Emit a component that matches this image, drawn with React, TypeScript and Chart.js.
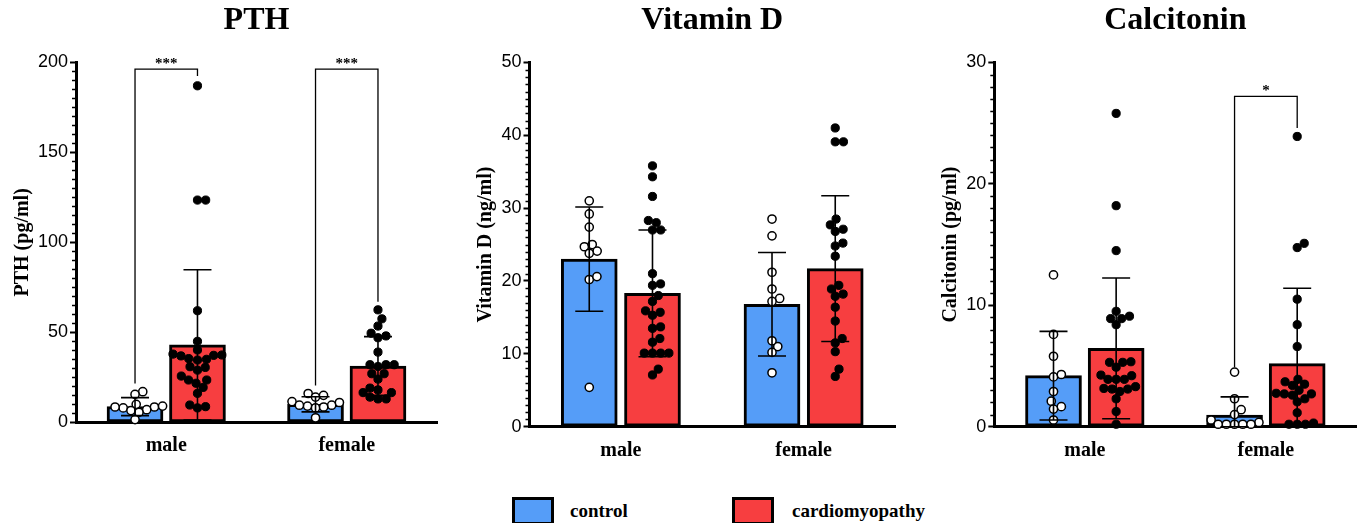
import React, { useEffect, useRef } from 'react';
import { Chart, registerables } from 'chart.js';

Chart.register(...registerables);

// ---------- data ----------
const groups = ['male', 'female'];
const seriesNames = ['control', 'cardiomyopathy'];
const seriesColors = ['#559DF8', '#F73E40'];

// PTH (pg/ml)
const pthTicks = [0, 50, 100, 150, 200];
const pthControlMean = [8.7, 10.0];
const pthControlSD = [5.0, 4.2];
const pthCardioMean = [43.0, 31.3];
const pthCardioSD = [41.8, 16.3];
const pthControlMale = [17, 15.5, 10, 8.5, 8, 8.5, 7, 5.5, 6.5, 9, 1.5];
const pthControlFemale = [16, 14, 15, 11.5, 9, 9.5, 8, 8.5, 9.5, 2.5, 11];
const pthCardioMale = [187, 123.5, 123.5, 62, 45, 40.2, 37.9, 37.4, 37.2, 36.9, 35.4, 35, 34.6, 30.9, 30.5, 29, 25.7, 23.5, 23.5, 21.7, 19.4, 16.1, 9.6, 8.7, 8];
const pthCardioFemale = [62.5, 57.5, 53.5, 48, 49.5, 47, 39, 32, 32, 31, 32, 27, 27, 24, 19, 18, 16.5, 16.5, 14, 13, 13];
const pthBrackets = [
  { group: 0, top: 196.3, leftEnd: 21.5, rightEnd: 192.4, label: '***' },
  { group: 1, top: 196.3, leftEnd: 20.5, rightEnd: 67, label: '***' },
];

// Vitamin D (ng/ml)
const vitDTicks = [0, 10, 20, 30, 40, 50];
const vitDControlMean = [23.0, 16.8];
const vitDControlSD = [7.15, 7.1];
const vitDCardioMean = [18.3, 21.7];
const vitDCardioSD = [8.7, 10.0];
const vitDControlMale = [31.0, 29.2, 27.4, 24.7, 25.0, 24.1, 23.8, 20.2, 20.6, 5.4];
const vitDControlFemale = [28.5, 26.2, 21.2, 18.9, 17.6, 17.2, 11.0, 11.8, 10.2, 7.4];
const vitDCardioMale = [35.8, 34.3, 31.6, 28.3, 28.0, 27.0, 27.0, 21.0, 19.4, 19.6, 18.0, 17.2, 15.3, 15.7, 15.9, 13.7, 13.5, 11.6, 12.1, 10.1, 10.1, 10.1, 10.1, 7.1, 7.9];
const vitDCardioFemale = [41.0, 39.1, 39.1, 28.5, 27.7, 27.1, 26.8, 25.2, 24.8, 23.4, 19.4, 18.9, 18.2, 17.9, 16.4, 14.5, 12.1, 11.5, 10.3, 7.9, 6.9];

// Calcitonin (pg/ml)
const calTicks = [0, 10, 20, 30];
const calControlMean = [4.2, 0.96];
const calControlSD = [3.65, 1.5];
const calCardioMean = [6.45, 5.2];
const calCardioSD = [5.8, 6.2];
const calControlMale = [12.5, 7.6, 5.8, 4.1, 4.3, 2.9, 1.65, 2.1, 1.45, 0.55];
const calControlFemale = [4.5, 2.3, 1.4, 1.0, 0.55, 0.35, 0.2, 0.2, 0.2, 0.2, 0.2];
const calCardioMale = [25.8, 18.2, 14.5, 9.5, 8.9, 9.1, 8.9, 8.4, 4.9, 5.3, 5.3, 5.35, 4.25, 4.2, 3.9, 3.9, 3.9, 3.3, 3.15, 2.9, 3.1, 3.1, 2.3, 1.25, 0.2];
const calCardioFemale = [23.9, 15.1, 14.75, 10.5, 8.4, 6.6, 3.9, 3.7, 3.5, 3.4, 3.0, 2.75, 2.7, 2.7, 2.6, 2.3, 2.05, 1.15, 0.3, 0.2, 0.2, 0.2];
const calBrackets = [
  { group: 1, top: 27.2, leftEnd: 4.9, rightEnd: 24.6, label: '*' },
];

// ---------- styling ----------
const SERIF = "'Liberation Serif', 'Times New Roman', serif";
const SANS = "'Liberation Sans', Arial, sans-serif";
const SERIES_SHIFT = 0.173; // half distance between the two bars of a group, in category units
const BAR_PX = 56;

interface Bracket { group: number; top: number; leftEnd: number; rightEnd: number; label: string }
interface Box { left: number; width: number; height: number; axisWidth: number; xAxisHeight: number; yTitlePad: number; padRight: number }
interface PanelSpec {
  title: string; yTitle: string; ticks: number[];
  controlMean: number[]; controlSD: number[]; cardioMean: number[]; cardioSD: number[];
  controlPoints: number[][]; cardioPoints: number[][];
  brackets: Bracket[]; box: Box;
}

const panels: PanelSpec[] = [
  {
    title: 'PTH', yTitle: 'PTH (pg/ml)', ticks: pthTicks,
    controlMean: pthControlMean, controlSD: pthControlSD, cardioMean: pthCardioMean, cardioSD: pthCardioSD,
    controlPoints: [pthControlMale, pthControlFemale], cardioPoints: [pthCardioMale, pthCardioFemale],
    brackets: pthBrackets,
    box: { left: 0, width: 450, height: 470, axisWidth: 76, xAxisHeight: 47.7, yTitlePad: 11, padRight: 13 },
  },
  {
    title: 'Vitamin D', yTitle: 'Vitamin D (ng/ml)', ticks: vitDTicks,
    controlMean: vitDControlMean, controlSD: vitDControlSD, cardioMean: vitDCardioMean, cardioSD: vitDCardioSD,
    controlPoints: [vitDControlMale, vitDControlFemale], cardioPoints: [vitDCardioMale, vitDCardioFemale],
    brackets: [],
    box: { left: 460, width: 450, height: 470, axisWidth: 69.5, xAxisHeight: 43.3, yTitlePad: 14, padRight: 15 },
  },
  {
    title: 'Calcitonin', yTitle: 'Calcitonin (pg/ml)', ticks: calTicks,
    controlMean: calControlMean, controlSD: calControlSD, cardioMean: calCardioMean, cardioSD: calCardioSD,
    controlPoints: [calControlMale, calControlFemale], cardioPoints: [calCardioMale, calCardioFemale],
    brackets: calBrackets,
    box: { left: 920, width: 442, height: 470, axisWidth: 74.3, xAxisHeight: 43.3, yTitlePad: 19, padRight: 4 },
  },
];

// beeswarm layout in pixel space: returns horizontal pixel offsets
function swarm(py: number[], d: number): number[] {
  const order = py.map((_, i) => i).sort((a, b) => py[b] - py[a]);
  const placed: { x: number; y: number }[] = [];
  const out: number[] = new Array(py.length).fill(0);
  for (const i of order) {
    const y = py[i];
    const cands = [0];
    for (const p of placed) {
      const dy = Math.abs(p.y - y);
      if (dy < d) {
        const dx = Math.sqrt(d * d - dy * dy);
        cands.push(p.x + dx, p.x - dx);
      }
    }
    cands.sort((a, b) => Math.abs(a) - Math.abs(b));
    let best = 0;
    for (const c of cands) {
      if (placed.every((p) => (p.x - c) ** 2 + (p.y - y) ** 2 >= d * d - 0.01)) { best = c; break; }
    }
    placed.push({ x: best, y });
    out[i] = best;
  }
  return out;
}

const errorBarPlugin = {
  id: 'errorBars',
  afterDatasetsDraw(chart: any, _args: any, opts: any) {
    const { ctx } = chart;
    const y = chart.scales.y;
    ctx.save();
    ctx.strokeStyle = '#000';
    ctx.lineWidth = 1.6;
    [0, 1].forEach((di) => {
      const meta = chart.getDatasetMeta(di);
      meta.data.forEach((el: any, gi: number) => {
        const m = opts.mean[di][gi];
        const s = opts.sd[di][gi];
        const yt = y.getPixelForValue(m + s);
        const yb = y.getPixelForValue(Math.max(m - s, 0));
        const half = 14;
        ctx.beginPath();
        ctx.moveTo(el.x, yt); ctx.lineTo(el.x, yb);
        ctx.moveTo(el.x - half, yt); ctx.lineTo(el.x + half, yt);
        ctx.moveTo(el.x - half, yb); ctx.lineTo(el.x + half, yb);
        ctx.stroke();
      });
    });
    ctx.restore();
  },
};

const bracketPlugin = {
  id: 'brackets',
  afterDatasetsDraw(chart: any, _args: any, opts: any) {
    const { ctx } = chart;
    const y = chart.scales.y;
    ctx.save();
    ctx.strokeStyle = '#000';
    ctx.fillStyle = '#000';
    ctx.lineWidth = 1.3;
    (opts.items as Bracket[]).forEach((b) => {
      const xl = chart.getDatasetMeta(0).data[b.group].x;
      const xr = chart.getDatasetMeta(1).data[b.group].x;
      const yt = y.getPixelForValue(b.top);
      ctx.beginPath();
      ctx.moveTo(xl, y.getPixelForValue(b.leftEnd));
      ctx.lineTo(xl, yt);
      ctx.lineTo(xr, yt);
      ctx.lineTo(xr, y.getPixelForValue(b.rightEnd));
      ctx.stroke();
      ctx.font = `bold 15px ${SERIF}`;
      ctx.textAlign = 'center';
      ctx.textBaseline = 'alphabetic';
      ctx.fillText(b.label, (xl + xr) / 2, yt - 1);
    });
    ctx.restore();
  },
};

const minorTickPlugin = {
  id: 'minorTicks',
  afterDraw(chart: any, _args: any, opts: any) {
    const { ctx } = chart;
    const y = chart.scales.y;
    const x0 = chart.chartArea.left;
    const ticks: number[] = opts.ticks;
    const step = ticks[1] - ticks[0];
    const n = (ticks.length - 1) * 10;
    ctx.save();
    ctx.strokeStyle = '#000';
    ctx.lineWidth = 1.4;
    ctx.beginPath();
    for (let k = 1; k < n; k++) {
      if (k % 10 === 0) continue;
      const py = Math.round(y.getPixelForValue(ticks[0] + (k * step) / 10)) + 0.5;
      ctx.moveTo(x0 - 4, py);
      ctx.lineTo(x0, py);
    }
    ctx.stroke();
    ctx.restore();
  },
};

function Panel({ spec }: { spec: PanelSpec }) {
  const ref = useRef<HTMLCanvasElement>(null);
  useEffect(() => {
    const canvas = ref.current!;
    const b = spec.box;
    const t = spec.ticks;
    const pointSets = [
      { values: spec.controlPoints[0], group: 0, bar: 0 },
      { values: spec.controlPoints[1], group: 1, bar: 0 },
      { values: spec.cardioPoints[0], group: 0, bar: 1 },
      { values: spec.cardioPoints[1], group: 1, bar: 1 },
    ];
    const barCommon = {
      xAxisID: 'x2',
      borderColor: '#000', borderWidth: 3, borderSkipped: false as const,
      grouped: false, barThickness: BAR_PX, order: 0,
    };
    const chart = new Chart(canvas, {
      type: 'bar',
      data: {
        labels: groups,
        datasets: [
          { label: seriesNames[0], data: spec.controlMean.map((m, g) => ({ x: g - SERIES_SHIFT, y: m })), backgroundColor: seriesColors[0], ...barCommon },
          { label: seriesNames[1], data: spec.cardioMean.map((m, g) => ({ x: g + SERIES_SHIFT, y: m })), backgroundColor: seriesColors[1], ...barCommon },
          ...pointSets.map((ps) => ({
            type: 'scatter' as const,
            label: seriesNames[ps.bar] + ' points',
            xAxisID: 'x2',
            data: ps.values.map((v) => ({ x: ps.group, y: v })),
            pointRadius: 4.1,
            pointBackgroundColor: ps.bar === 0 ? '#fff' : '#000',
            pointBorderColor: '#000',
            pointBorderWidth: ps.bar === 0 ? 1.5 : 1,
            order: -1,
            clip: false as any,
          })),
        ] as any,
      },
      options: {
        animation: false,
        responsive: false,
        maintainAspectRatio: false,
        devicePixelRatio: 1,
        events: [],
        layout: { padding: { left: 0, right: b.padRight, top: 0, bottom: 0 } },
        plugins: {
          legend: { display: false },
          tooltip: { enabled: false },
          title: {
            display: true, text: spec.title, color: '#000', fullSize: false,
            font: { family: SERIF, size: 32, weight: 'bold', lineHeight: 1.2 },
            padding: { top: 2, bottom: 22 },
          },
          errorBars: { mean: [spec.controlMean, spec.cardioMean], sd: [spec.controlSD, spec.cardioSD] },
          brackets: { items: spec.brackets },
          minorTicks: { ticks: t },
        } as any,
        scales: {
          x: {
            type: 'category',
            offset: true,
            grid: { display: false, drawTicks: false },
            border: { display: true, color: '#000', width: 3 },
            ticks: { color: '#000', padding: 12, font: { family: SERIF, size: 20, weight: 'bold' } },
            afterFit: (s: any) => { s.height = b.xAxisHeight; },
          },
          x2: {
            type: 'linear', display: false, offset: false, min: -0.5, max: 1.5,
            grid: { offset: false }, ticks: { stepSize: 1 },
          },
          y: {
            type: 'linear',
            min: t[0], max: t[t.length - 1],
            border: { display: true, color: '#000', width: 3 },
            grid: { display: true, drawOnChartArea: false, drawTicks: true, tickLength: 6, tickWidth: 2, tickColor: '#000' },
            ticks: {
              stepSize: t[1] - t[0], autoSkip: false, color: '#000', padding: 2,
              font: { family: SANS, size: 18 },
            },
            title: {
              display: true, text: spec.yTitle, color: '#000',
              font: { family: SERIF, size: 20, weight: 'bold', lineHeight: 1.2 },
              padding: { top: b.yTitlePad, bottom: 0 },
            },
            afterFit: (s: any) => { s.width = b.axisWidth; },
          },
        } as any,
      },
      plugins: [errorBarPlugin, bracketPlugin, minorTickPlugin],
    } as any);

    // spread the points horizontally (beeswarm) using the chart's own scales
    const x2 = chart.scales.x2 as any;
    const ys = chart.scales.y as any;
    pointSets.forEach((ps, k) => {
      const cx = (chart.getDatasetMeta(ps.bar).data[ps.group] as any).x;
      const py = ps.values.map((v) => ys.getPixelForValue(v));
      const off = swarm(py, 8.2);
      (chart.data.datasets[2 + k] as any).data = ps.values.map((v, i) => ({ x: x2.getValueForPixel(cx + off[i]), y: v }));
    });
    chart.update();

    return () => chart.destroy();
  }, [spec]);
  const b = spec.box;
  return (
    <canvas
      ref={ref}
      width={b.width}
      height={b.height}
      style={{ position: 'absolute', left: b.left, top: 0, width: b.width, height: b.height }}
    />
  );
}

export default function App() {
  const legendPos = [
    { box: 512, text: 570 },
    { box: 732, text: 792 },
  ];
  return (
    <div style={{ position: 'absolute', left: 0, top: 0, width: 1362, height: 523, overflow: 'hidden', background: '#fff' }}>
      {panels.map((p) => <Panel key={p.title} spec={p} />)}
      {seriesNames.map((name, i) => (
        <React.Fragment key={name}>
          <div style={{
            position: 'absolute', left: legendPos[i].box, top: 497, width: 42, height: 28,
            boxSizing: 'border-box', border: '3px solid #000', background: seriesColors[i],
          }} />
          <div style={{
            position: 'absolute', left: legendPos[i].text, top: 498, height: 26, lineHeight: '26px',
            fontFamily: SERIF, fontWeight: 'bold', fontSize: 19, color: '#000', whiteSpace: 'nowrap',
          }}>{name}</div>
        </React.Fragment>
      ))}
    </div>
  );
}
